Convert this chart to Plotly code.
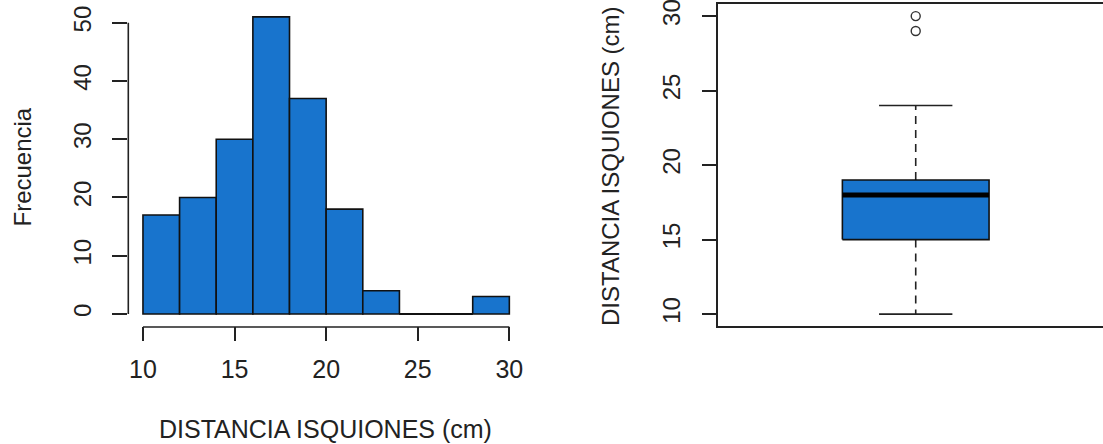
import plotly.graph_objects as go

# ---- data ----
bin_edges = [10, 12, 14, 16, 18, 20, 22, 24, 26, 28, 30]
counts = [17, 20, 30, 51, 37, 18, 4, 0, 0, 3]
hist_xticks = [10, 15, 20, 25, 30]
hist_yticks = [0, 10, 20, 30, 40, 50]

box_lower_whisker = 10
box_q1 = 15
box_median = 18
box_q3 = 19
box_upper_whisker = 24
box_outliers = [29, 30]
box_yticks = [10, 15, 20, 25, 30]

x_title = "DISTANCIA ISQUIONES (cm)"
y_title_hist = "Frecuencia"
y_title_box = "DISTANCIA ISQUIONES (cm)"

# ---- style ----
W, H = 1103, 444
BLUE = "#1874CD"
INK = "#222222"
FONT = "Liberation Sans, Arial, sans-serif"
FS = 25      # horizontal text
FSV = 24     # rotated text

def px_x(p):
    return p / W

def px_y(p):
    return 1 - p / H

fig = go.Figure()

# histogram bars
centers = [(a + b) / 2 for a, b in zip(bin_edges[:-1], bin_edges[1:])]
widths = [b - a for a, b in zip(bin_edges[:-1], bin_edges[1:])]
fig.add_trace(go.Bar(
    x=centers, y=counts, width=widths,
    marker=dict(color=BLUE, line=dict(color="#111111", width=1.6)),
    xaxis="x", yaxis="y", showlegend=False, hoverinfo="skip",
))
# zero-height bins drawn as flat outline (as R does)
zx, zy = [], []
for a, b, c in zip(bin_edges[:-1], bin_edges[1:], counts):
    if c == 0:
        zx += [a, b, None]
        zy += [0, 0, None]
fig.add_trace(go.Scatter(x=zx, y=zy, mode="lines",
                         line=dict(color="#111111", width=1.8),
                         xaxis="x", yaxis="y", showlegend=False, hoverinfo="skip"))

# ---- boxplot (right) ----
cx = 1.0
half_box = 0.2
half_cap = 0.1
# whiskers (dashed)
fig.add_trace(go.Scatter(
    x=[cx, cx, None, cx, cx],
    y=[box_q3, box_upper_whisker, None, box_q1, box_lower_whisker],
    mode="lines", line=dict(color=INK, width=1.6, dash="8px,6px"),
    xaxis="x2", yaxis="y2", showlegend=False, hoverinfo="skip"))
# caps
fig.add_trace(go.Scatter(
    x=[cx - half_cap, cx + half_cap, None, cx - half_cap, cx + half_cap],
    y=[box_upper_whisker, box_upper_whisker, None, box_lower_whisker, box_lower_whisker],
    mode="lines", line=dict(color=INK, width=1.6),
    xaxis="x2", yaxis="y2", showlegend=False, hoverinfo="skip"))
# box
fig.add_trace(go.Scatter(
    x=[cx - half_box, cx + half_box, cx + half_box, cx - half_box, cx - half_box],
    y=[box_q1, box_q1, box_q3, box_q3, box_q1],
    mode="lines", fill="toself", fillcolor=BLUE,
    line=dict(color="#111111", width=1.6),
    xaxis="x2", yaxis="y2", showlegend=False, hoverinfo="skip"))
# median
fig.add_trace(go.Scatter(
    x=[cx - half_box, cx + half_box], y=[box_median, box_median],
    mode="lines", line=dict(color="#000000", width=5),
    xaxis="x2", yaxis="y2", showlegend=False, hoverinfo="skip"))
# outliers
fig.add_trace(go.Scatter(
    x=[cx] * len(box_outliers), y=box_outliers, mode="markers",
    marker=dict(symbol="circle-open", size=9, color="#333333", line=dict(width=1.4)),
    xaxis="x2", yaxis="y2", showlegend=False, hoverinfo="skip", cliponaxis=False))

tickfont_h = dict(family=FONT, size=FS, color=INK)
tickfont_v = dict(family=FONT, size=FSV, color=INK)

fig.update_layout(
    width=W, height=H,
    margin=dict(l=0, r=0, t=0, b=0, autoexpand=False),
    paper_bgcolor="white", plot_bgcolor="white",
    showlegend=False,
    xaxis=dict(domain=[px_x(128.3), px_x(524)], range=[9.2, 30.8],
               tickvals=hist_xticks, ticks="outside", ticklen=14, tickwidth=1.6,
               tickcolor=INK, showline=False, showgrid=False, zeroline=False,
               tickfont=tickfont_h, ticklabelstandoff=7, anchor="y",
               ticklabeloverflow="allow", automargin=False),
    yaxis=dict(domain=[px_y(325.9), px_y(5.0)], range=[-2.04, 53.04],
               tickvals=hist_yticks, ticks="outside", ticklen=15, tickwidth=1.6,
               tickcolor=INK, showline=False, showgrid=False, zeroline=False,
               tickfont=tickfont_v, tickangle=-90, ticklabelstandoff=12, anchor="x",
               ticklabeloverflow="allow", automargin=False),
    xaxis2=dict(domain=[px_x(717.7), 1.0], range=[0.46, 1.5107],
                showticklabels=False, ticks="", showline=True, mirror=True,
                linecolor=INK, linewidth=1.6, showgrid=False, zeroline=False,
                anchor="y2", automargin=False),
    yaxis2=dict(domain=[px_y(326.0), px_y(4.2)], range=[9.2, 30.8],
                tickvals=box_yticks, ticks="outside", ticklen=14, tickwidth=1.6,
                tickcolor=INK, showline=True, mirror=False, linecolor=INK,
                linewidth=1.6, showgrid=False, zeroline=False,
                tickfont=tickfont_v, tickangle=-90, ticklabelstandoff=12, anchor="x2",
                ticklabeloverflow="allow", automargin=False),
)

# R-style detached axis lines spanning first..last tick
fig.add_shape(type="line", xref="x", yref="paper",
              x0=hist_xticks[0], x1=hist_xticks[-1], y0=px_y(327.0), y1=px_y(327.0),
              line=dict(color=INK, width=1.6))
fig.add_shape(type="line", xref="x domain", yref="y",
              x0=0, x1=0, y0=hist_yticks[0], y1=hist_yticks[-1],
              line=dict(color=INK, width=1.6))

# axis titles
fig.add_annotation(text=x_title, xref="paper", yref="paper",
                   x=px_x(325.5), y=px_y(429), xanchor="center", yanchor="middle",
                   showarrow=False, font=dict(family=FONT, size=FS, color=INK))
fig.add_annotation(text=y_title_hist, xref="paper", yref="paper",
                   x=px_x(21.5), y=px_y(167), xanchor="center", yanchor="middle",
                   textangle=-90, showarrow=False,
                   font=dict(family=FONT, size=FSV, color=INK))
fig.add_annotation(text=y_title_box, xref="paper", yref="paper",
                   x=px_x(610.5), y=px_y(166.5), xanchor="center", yanchor="middle",
                   textangle=-90, showarrow=False,
                   font=dict(family=FONT, size=FSV, color=INK))

fig.write_html("out.html")
